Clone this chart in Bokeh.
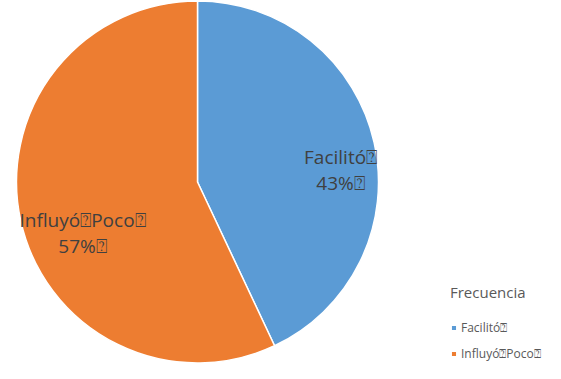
import math
from bokeh.plotting import figure
from bokeh.models import Range1d, Legend, LegendItem, ColumnDataSource
from bokeh.core.properties import value
from bokeh.embed import file_html
from bokeh.resources import INLINE

# ---- data ----
categories = ["Facilitó", "Influyó\u2370Poco"]
percents = [43, 57]
colors = ["#5B9BD5", "#ED7D31"]
legend_title = "Frecuencia"
BOX = "\u2370"

# ---- layout/style ----
W, H = 545, 363
cx, cy, R = 197, 181.5, 181
label_r = [0.793, 0.695]
label_turn = [-8.0, 11.3]   # degrees, nudge of label from slice mid-angle
FONT = "Open Sans"

total = sum(percents)
starts, ends, lx, ly, names, pcts = [], [], [], [], [], []
cum = 0.0
for i, v in enumerate(percents):
    f = v / total
    end = math.pi / 2 - cum * 2 * math.pi
    start = end - f * 2 * math.pi
    cum += f
    starts.append(start)
    ends.append(end)
    mid = (start + end) / 2 + math.radians(label_turn[i])
    lx.append(cx + label_r[i] * R * math.cos(mid))
    ly.append(cy + label_r[i] * R * math.sin(mid))
    names.append(categories[i] + BOX)
    pcts.append(f"{v}%" + BOX)

src = ColumnDataSource(dict(start=starts, end=ends, color=colors, cat=categories,
                            lx=lx, ly=ly, name=names, pct=pcts))

p = figure(width=W, height=H, x_range=Range1d(0, W), y_range=Range1d(0, H),
           output_backend="svg", toolbar_location=None, min_border=0)
p.axis.visible = False
p.grid.visible = False
p.outline_line_color = None
p.background_fill_color = "white"
p.border_fill_color = "white"

wr = p.wedge(x=cx, y=cy, radius=R, start_angle="start", end_angle="end",
             fill_color="color", line_color="white", line_width=1.5, source=src)

p.text(x="lx", y="ly", text="name", source=src, text_align="center",
       text_baseline="middle", y_offset=-13, text_font=value(FONT),
       text_font_size="19px", text_color="#404040")
p.text(x="lx", y="ly", text="pct", source=src, text_align="center",
       text_baseline="middle", y_offset=13, text_font=value(FONT),
       text_font_size="19px", text_color="#404040")

items = [LegendItem(label=categories[i] + BOX, renderers=[wr], index=i)
         for i in range(len(categories))]
legend = Legend(items=items, title=legend_title, location=(450, 1),
                orientation="vertical")
legend.title_text_font = FONT
legend.title_text_font_size = "15px"
legend.title_text_font_style = "normal"
legend.title_text_color = "#595959"
legend.title_standoff = 17
legend.label_text_font = FONT
legend.label_text_font_size = "12px"
legend.label_text_color = "#595959"
legend.label_height = 12
legend.label_standoff = 4
legend.glyph_width = 7
legend.glyph_height = 7
legend.spacing = 9
legend.padding = 0
legend.margin = 0
legend.border_line_alpha = 0
legend.background_fill_alpha = 0
p.add_layout(legend)

open("out.html", "w").write(file_html(p, INLINE))
